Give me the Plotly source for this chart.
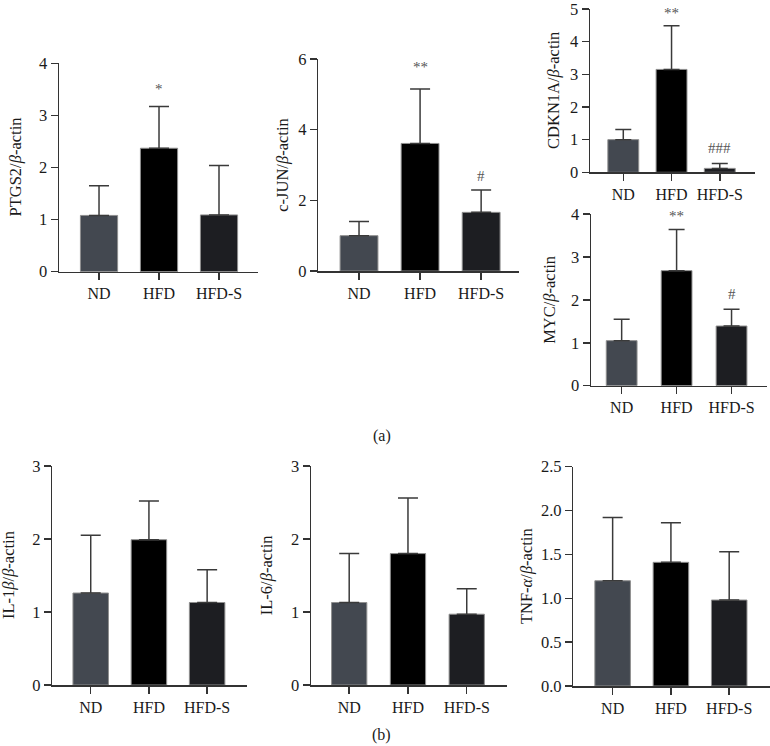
import plotly.graph_objects as go

groups = ["ND", "HFD", "HFD-S"]

ptgs2_mean = [1.08, 2.37, 1.09]
ptgs2_upper = [1.65, 3.17, 2.04]
ptgs2_marks = ["", "*", ""]

cjun_mean = [1.00, 3.61, 1.66]
cjun_upper = [1.40, 5.15, 2.29]
cjun_marks = ["", "**", "#"]

cdkn1a_mean = [1.00, 3.15, 0.12]
cdkn1a_upper = [1.31, 4.49, 0.27]
cdkn1a_marks = ["", "**", "###"]

myc_mean = [1.05, 2.68, 1.39]
myc_upper = [1.55, 3.64, 1.78]
myc_marks = ["", "**", "#"]

il1b_mean = [1.26, 1.99, 1.13]
il1b_upper = [2.05, 2.52, 1.58]

il6_mean = [1.13, 1.80, 0.97]
il6_upper = [1.80, 2.56, 1.32]

tnfa_mean = [1.20, 1.41, 0.98]
tnfa_upper = [1.92, 1.86, 1.53]

bar_colors = ["#434850", "#000000", "#1d1e22"]

W, H = 770, 746
FONT = "Liberation Serif, Times New Roman, serif"

panels = [
    dict(mean=ptgs2_mean, upper=ptgs2_upper, marks=ptgs2_marks, shifts=[0, 8, 0],
         title="PTGS2/<i>β</i>-actin", ymax=4, dtick=1, fmt="d",
         px=(59, 258), py=(63.3, 271.7), xr=(-0.667, 2.65), bw=0.62, cap=10, tx=15),
    dict(mean=cjun_mean, upper=cjun_upper, marks=cjun_marks, shifts=[0, 12, 4],
         title="c-JUN/<i>β</i>-actin", ymax=6, dtick=2, fmt="d",
         px=(318.3, 519), py=(59, 271), xr=(-0.667, 2.62), bw=0.62, cap=10, tx=281.7),
    dict(mean=cdkn1a_mean, upper=cdkn1a_upper, marks=cdkn1a_marks, shifts=[0, 3, 5],
         title="CDKN1A/<i>β</i>-actin", ymax=5, dtick=1, fmt="d",
         px=(590, 755), py=(9, 172.3), xr=(-0.69, 2.73), bw=0.64, cap=8, tx=553.3),
    dict(mean=myc_mean, upper=myc_upper, marks=myc_marks, shifts=[0, 3, 5],
         title="MYC/<i>β</i>-actin", ymax=4, dtick=1, fmt="d",
         px=(591, 766.7), py=(214, 385.7), xr=(-0.558, 2.64), bw=0.56, cap=8, tx=550),
    dict(mean=il1b_mean, upper=il1b_upper, marks=None, shifts=None,
         title="IL-1<i>β</i>/<i>β</i>-actin", ymax=3, dtick=1, fmt="d",
         px=(52.3, 247.3), py=(466, 685), xr=(-0.66, 2.69), bw=0.61, cap=10, tx=8.5),
    dict(mean=il6_mean, upper=il6_upper, marks=None, shifts=None,
         title="IL-6/<i>β</i>-actin", ymax=3, dtick=1, fmt="d",
         px=(311, 506.7), py=(466, 685), xr=(-0.65, 2.68), bw=0.60, cap=10, tx=266.7),
    dict(mean=tnfa_mean, upper=tnfa_upper, marks=None, shifts=None,
         title="TNF-<i>α</i>/<i>β</i>-actin", ymax=2.5, dtick=0.5, fmt=".1f",
         px=(573.3, 770), py=(466.7, 686), xr=(-0.675, 2.70), bw=0.61, cap=10, tx=526.7),
]

fig = go.Figure()
annotations = []
AX = "#333333"

for i, p in enumerate(panels, start=1):
    xa = "x" if i == 1 else f"x{i}"
    ya = "y" if i == 1 else f"y{i}"
    err_plus = [u - m for u, m in zip(p["upper"], p["mean"])]
    fig.add_trace(go.Bar(
        x=groups, y=p["mean"], xaxis=xa, yaxis=ya, width=p["bw"],
        marker=dict(color=bar_colors, line=dict(color="#8f8f8f", width=1)),
        error_y=dict(type="data", symmetric=False, array=err_plus,
                     arrayminus=[0, 0, 0], color="#3a3a3a", thickness=1.5, width=p["cap"]),
        showlegend=False, hoverinfo="skip",
    ))
    xd = [p["px"][0] / W, p["px"][1] / W]
    yd = [1 - p["py"][1] / H, 1 - p["py"][0] / H]
    xkey = "xaxis" if i == 1 else f"xaxis{i}"
    ykey = "yaxis" if i == 1 else f"yaxis{i}"
    fig.layout[xkey] = dict(
        domain=xd, anchor=ya, range=list(p["xr"]), showgrid=False, zeroline=False,
        showline=True, linecolor=AX, linewidth=1.5, ticks="outside", ticklen=7,
        tickwidth=1.5, tickcolor=AX, type="category", automargin=False,
        ticklabeloverflow="allow",
        tickfont=dict(family=FONT, size=16, color="#1a1a1a"), fixedrange=True,
    )
    fig.layout[ykey] = dict(
        domain=yd, anchor=xa, range=[0, p["ymax"]], dtick=p["dtick"], tick0=0,
        tickformat=p["fmt"], showgrid=False, zeroline=False, automargin=False,
        showline=True, linecolor=AX, linewidth=1.5, ticks="outside", ticklen=7,
        tickwidth=1.5, tickcolor=AX, ticklabeloverflow="allow",
        tickfont=dict(family=FONT, size=16.5, color="#1a1a1a"), fixedrange=True,
    )
    annotations.append(dict(
        text=p["title"], xref="paper", yref="paper", x=p["tx"] / W,
        y=(yd[0] + yd[1]) / 2, textangle=-90, showarrow=False,
        xanchor="center", yanchor="middle",
        font=dict(family=FONT, size=16.5, color="#1a1a1a"),
    ))
    if p["marks"]:
        for g, u, mk, sh in zip(groups, p["upper"], p["marks"], p["shifts"]):
            if mk:
                annotations.append(dict(
                    text=mk, xref=xa, yref=ya, x=g, y=u, showarrow=False,
                    xanchor="center", yanchor="bottom", yshift=sh,
                    font=dict(family=FONT, size=15, color="#555555"),
                ))

annotations.append(dict(text="(a)", xref="paper", yref="paper", x=382 / W, y=1 - 436 / H,
                        showarrow=False, xanchor="center", yanchor="middle",
                        font=dict(family=FONT, size=16, color="#1a1a1a")))
annotations.append(dict(text="(b)", xref="paper", yref="paper", x=381 / W, y=1 - 735 / H,
                        showarrow=False, xanchor="center", yanchor="middle",
                        font=dict(family=FONT, size=16, color="#1a1a1a")))

fig.update_layout(
    width=W, height=H, margin=dict(l=0, r=0, t=0, b=0, autoexpand=False),
    paper_bgcolor="white", plot_bgcolor="white", template="none",
    annotations=annotations, bargap=0,
)

fig.write_html(
    "out.html",
    config={"displayModeBar": False, "staticPlot": True},
    post_script="document.body.style.margin='0px';document.body.style.overflow='hidden';",
)
